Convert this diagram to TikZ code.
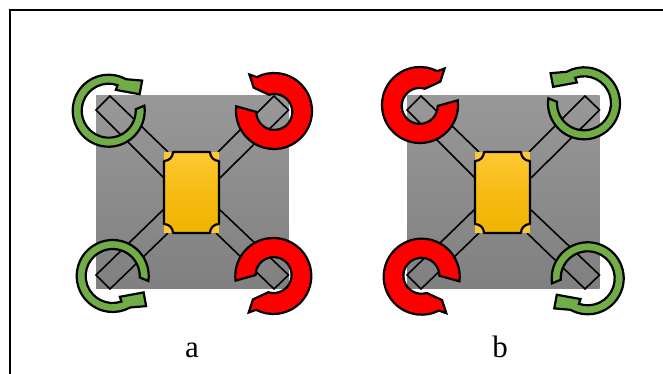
\documentclass[tikz,border=0pt]{standalone}
\usepackage{fontspec}
\setmainfont{Liberation Serif}
\usepackage{xcolor}
\usepackage{tikz}
\definecolor{rotorgreen}{RGB}{112,173,71}
\definecolor{rotorred}{RGB}{255,0,0}
\definecolor{framegrayhi}{RGB}{152,152,152}
\definecolor{framegraylo}{RGB}{128,128,128}
\definecolor{hubhi}{RGB}{255,200,50}
\definecolor{hublo}{RGB}{240,180,0}
\tikzset{
  outline/.style={draw=black, line width=2.2pt, line join=round},
  arrowline/.style={draw=black, line width=2.2pt, line join=miter},
  armline/.style={draw=black, line width=1.6pt},
  letter/.style={font=\fontsize{31}{31}\selectfont, inner sep=0pt, anchor=base},
  greenrotor/.pic={
    \draw[arrowline, fill=rotorgreen] (8:36) arc[start angle=8, end angle=-299, radius=36]
      -- (42:45) -- (28:35) -- (71:22) -- (71:27)
      arc[start angle=-289, end angle=3, radius=27] -- cycle;
  },
  redrotor/.pic={
    \draw[arrowline, fill=rotorred] (7:38) arc[start angle=7, end angle=-297, radius=38]
      -- (56:44) -- (49:31) -- (73:17)
      arc[start angle=-287, end angle=0, radius=18] -- cycle;
  }
}

\begin{document}
\begin{tikzpicture}[x=1pt, y=1pt]
  \useasboundingbox (0,0) rectangle (663,374);
  % Outer frame, top and left only
  \draw[line width=2.2pt] (10,0) -- (10,364) -- (663,364);

  % Frame, arms and hub of each quadrotor
  \foreach \ox in {0,311} {
    \begin{scope}[shift={(\ox,0)}]
      \shade[top color=framegrayhi, bottom color=framegraylo] (96,85) rectangle (288.5,278);
      % Arms
      \draw[armline] (164,196) -- (96,264) -- (110,278) -- (168,222);
      \draw[armline] (218,222) -- (274,278) -- (288.5,264) -- (220,196);
      \draw[armline] (164,165) -- (96,99) -- (110,85) -- (168,141);
      \draw[armline] (219,165) -- (288.5,99) -- (274,85) -- (216,141);
      % Hub corners
      \fill[hubhi] (164,141) rectangle (173,150);
      \fill[hubhi] (210,141) rectangle (219,150);
      \fill[hubhi] (164,213) rectangle (173,222);
      \fill[hubhi] (210,213) rectangle (219,222);
      % Hub
      \shadedraw[outline, top color=hubhi, bottom color=hublo, middle color=hubhi!40!hublo]
        (173,222) -- (210,222) arc[start angle=180, end angle=270, radius=9]
        -- (219,150) arc[start angle=90, end angle=180, radius=9]
        -- (173,141) arc[start angle=0, end angle=90, radius=9]
        -- (164,213) arc[start angle=270, end angle=360, radius=9] -- cycle;
    \end{scope}
  }

  % Rotors of a
  \pic at (108.7,263.3) {greenrotor};
  \pic[yscale=-1] at (112.7,98) {greenrotor};
  \pic[xscale=-1] at (274,263) {redrotor};
  \pic[xscale=-1, yscale=-1] at (273.3,98) {redrotor};
  % Rotors of b
  \pic at (420,269) {redrotor};
  \pic[yscale=-1] at (421.7,97.3) {redrotor};
  \pic[xscale=-1] at (584,270.7) {greenrotor};
  \pic[xscale=-1, yscale=-1] at (587.7,95.7) {greenrotor};

  % Labels
  \node[letter] (labela) at (192,16) {a};
  \node[letter] (labelb) at (500,16) {b};
\end{tikzpicture}
\end{document}
